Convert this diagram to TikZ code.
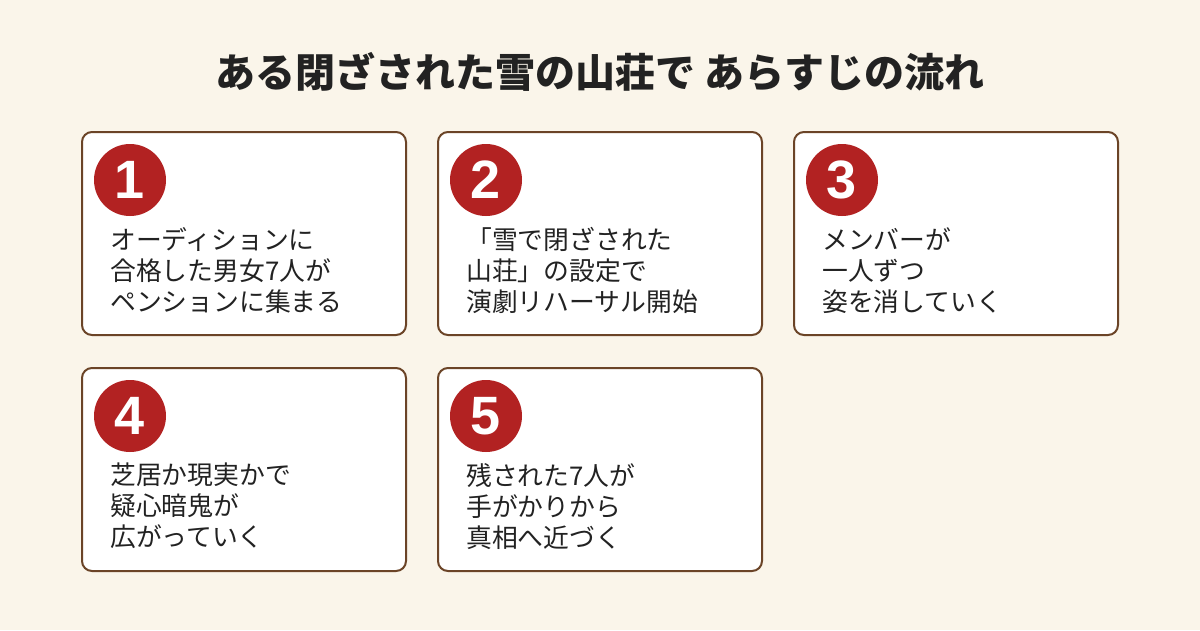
\documentclass[tikz,border=0pt]{standalone}
\usepackage{fontspec}
\setmainfont{Noto Sans CJK JP}
\newfontfamily\numfont{Liberation Sans}
\definecolor{bg}{HTML}{FAF5EA}
\definecolor{brd}{HTML}{6B4427}
\definecolor{red}{HTML}{B22222}
\definecolor{ink}{HTML}{222222}
\begin{document}
\begin{tikzpicture}[x=1pt,y=-1pt,
 box/.style={draw=brd,line width=2pt,fill=white,rounded corners=10pt,minimum width=324pt,minimum height=203pt,anchor=north west,inner sep=0pt},
 num/.style={circle,fill=red,minimum size=72pt,inner sep=0pt,text=white,font=\numfont\fontsize{54}{54}\bfseries},
 txt/.style={anchor=north west,align=left,text=ink,font=\fontsize{25.8}{31}\selectfont,inner sep=0pt}]
\fill[bg] (0,0) rectangle (1200,630);
\useasboundingbox (0,0) rectangle (1200,630);
\node[text=ink,font=\fontsize{40}{40}\bfseries] (title) at (600,72) {ある閉ざされた雪の山荘で あらすじの流れ};
\foreach \i/\x/\y/\t in {
 1/81/131/{オーディションに\\合格した男女7人が\\ペンションに集まる},
 2/437/131/{「雪で閉ざされた\\山荘」の設定で\\演劇リハーサル開始},
 3/793/131/{メンバーが\\一人ずつ\\姿を消していく},
 4/81/367/{芝居か現実かで\\疑心暗鬼が\\広がっていく},
 5/437/367/{残された7人が\\手がかりから\\真相へ近づく}}{
 \node[box] (b\i) at (\x,\y) {};
 \node[num] (n\i) at (\x+49,\y+49) {\i};
 \node[txt] (t\i) at (\x+29,\y+96) {\t};
}
\end{tikzpicture}
\end{document}
